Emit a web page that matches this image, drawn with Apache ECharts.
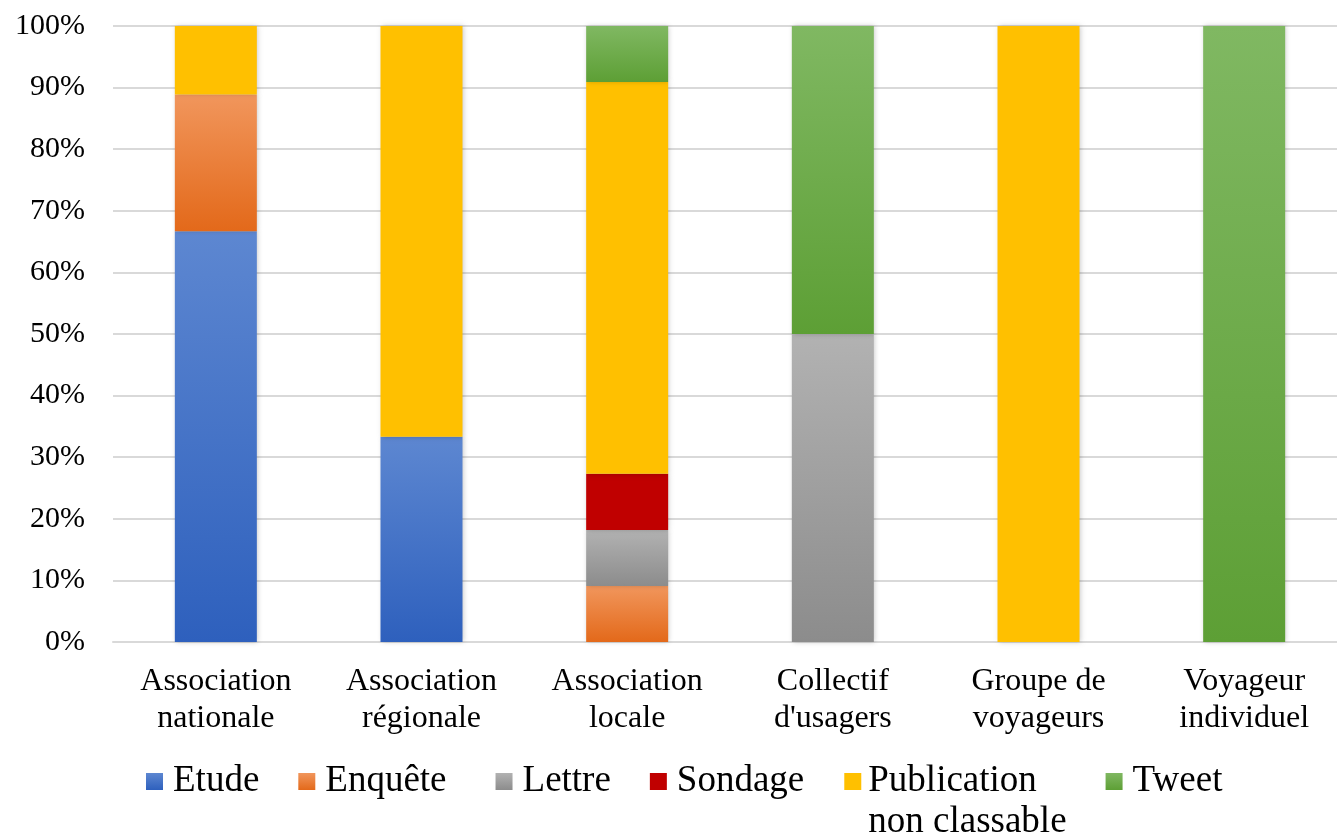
<!DOCTYPE html>
<html>
<head>
<meta charset="utf-8">
<style>
  html, body { margin: 0; padding: 0; background: #ffffff; }
  #chart { width: 1337px; height: 836px; }
</style>
<script src="https://cdn.jsdelivr.net/npm/echarts@6/dist/echarts.min.js"></script>
</head>
<body>
<div id="chart"></div>
<script>
// Types of publication by author category (percent of each category)
const categories = [
  'Association\nnationale',
  'Association\nrégionale',
  'Association\nlocale',
  'Collectif\nd\'usagers',
  'Groupe de\nvoyageurs',
  'Voyageur\nindividuel'
];
const etude       = [66.7, 33.3, 0,    0,  0,   0];
const enquete     = [22.2, 0,    9.1,  0,  0,   0];
const lettre      = [0,    0,    9.1,  50, 0,   0];
const sondage     = [0,    0,    9.1,  0,  0,   0];
const publication = [11.1, 66.7, 63.6, 0,  100, 0];
const tweet       = [0,    0,    9.1,  50, 0,   100];
const yTicks = [0, 10, 20, 30, 40, 50, 60, 70, 80, 90, 100];

const FONT = '"Liberation Serif", "Times New Roman", serif';

function vgrad(top, bottom) {
  return new echarts.graphic.LinearGradient(0, 0, 0, 1, [
    { offset: 0, color: top },
    { offset: 1, color: bottom }
  ]);
}

const seriesDefs = [
  { name: 'Etude',       data: etude,       color: vgrad('#5d87d1', '#2e60bd') },
  { name: 'Enquête',     data: enquete,     color: vgrad('#f1965c', '#e3691a') },
  { name: 'Lettre',      data: lettre,      color: vgrad('#b2b2b2', '#8c8c8c') },
  { name: 'Sondage',     data: sondage,     color: '#c00000' },
  { name: 'Publication non classable', data: publication, color: '#ffc000' },
  { name: 'Tweet',       data: tweet,       color: vgrad('#80b862', '#5d9f35') }
];

const chart = echarts.init(document.getElementById('chart'), null, { renderer: 'canvas' });

chart.setOption({
  backgroundColor: '#ffffff',
  animation: false,
  grid: { left: 113, top: 26, right: -10, bottom: 194, containLabel: false, outerBoundsMode: 'none' },
  xAxis: {
    type: 'category',
    data: categories,
    axisLine: { show: true, lineStyle: { color: '#d9d9d9', width: 2 } },
    axisTick: { show: false },
    axisLabel: {
      color: '#000000',
      fontFamily: FONT,
      fontSize: 32,
      lineHeight: 37,
      margin: 21,
      interval: 0
    }
  },
  yAxis: {
    type: 'value',
    min: yTicks[0],
    max: yTicks[yTicks.length - 1],
    interval: 10,
    axisLine: { show: false },
    axisTick: { show: false },
    splitLine: { lineStyle: { color: '#d9d9d9', width: 2 } },
    axisLabel: {
      color: '#000000',
      fontFamily: FONT,
      fontSize: 30,
      margin: 28,
      formatter: '{value}%'
    }
  },
  legend: {
    left: 141,
    top: 715,
    itemWidth: 17,
    itemHeight: 17,
    itemGap: 39,
    icon: 'rect',
    textStyle: { color: '#000000', fontFamily: FONT, fontSize: 37, lineHeight: 41, padding: [0, 0, 0, 5] },
    data: [
      { name: 'Etude',   textStyle: { padding: [0, 0, 0, 5] } },
      { name: 'Enquête', textStyle: { padding: [0, 10, 0, 5] } },
      { name: 'Lettre',  textStyle: { padding: [0, 0, 0, 5] } },
      { name: 'Sondage', textStyle: { padding: [0, 1, 0, 5] } },
      { name: 'Publication non classable', textStyle: { padding: [0, 0, 0, 2] } },
      { name: 'Tweet',   textStyle: { padding: [0, 0, 0, 5] } }
    ],
    // the two-line label keeps its first line level with the marker
    formatter: function (name) {
      return name === 'Publication non classable' ? '\nPublication\nnon classable' : name;
    }
  },
  series: seriesDefs.map(function (s) {
    return {
      name: s.name,
      type: 'bar',
      stack: 'total',
      barWidth: 82,
      data: s.data.map(function (v) { return v === 0 ? null : v; }),
      itemStyle: {
        color: s.color,
        shadowBlur: 5,
        shadowColor: 'rgba(0,0,0,0.22)',
        shadowOffsetX: 1,
        shadowOffsetY: 0
      },
      emphasis: { disabled: true }
    };
  })
});
</script>
</body>
</html>
